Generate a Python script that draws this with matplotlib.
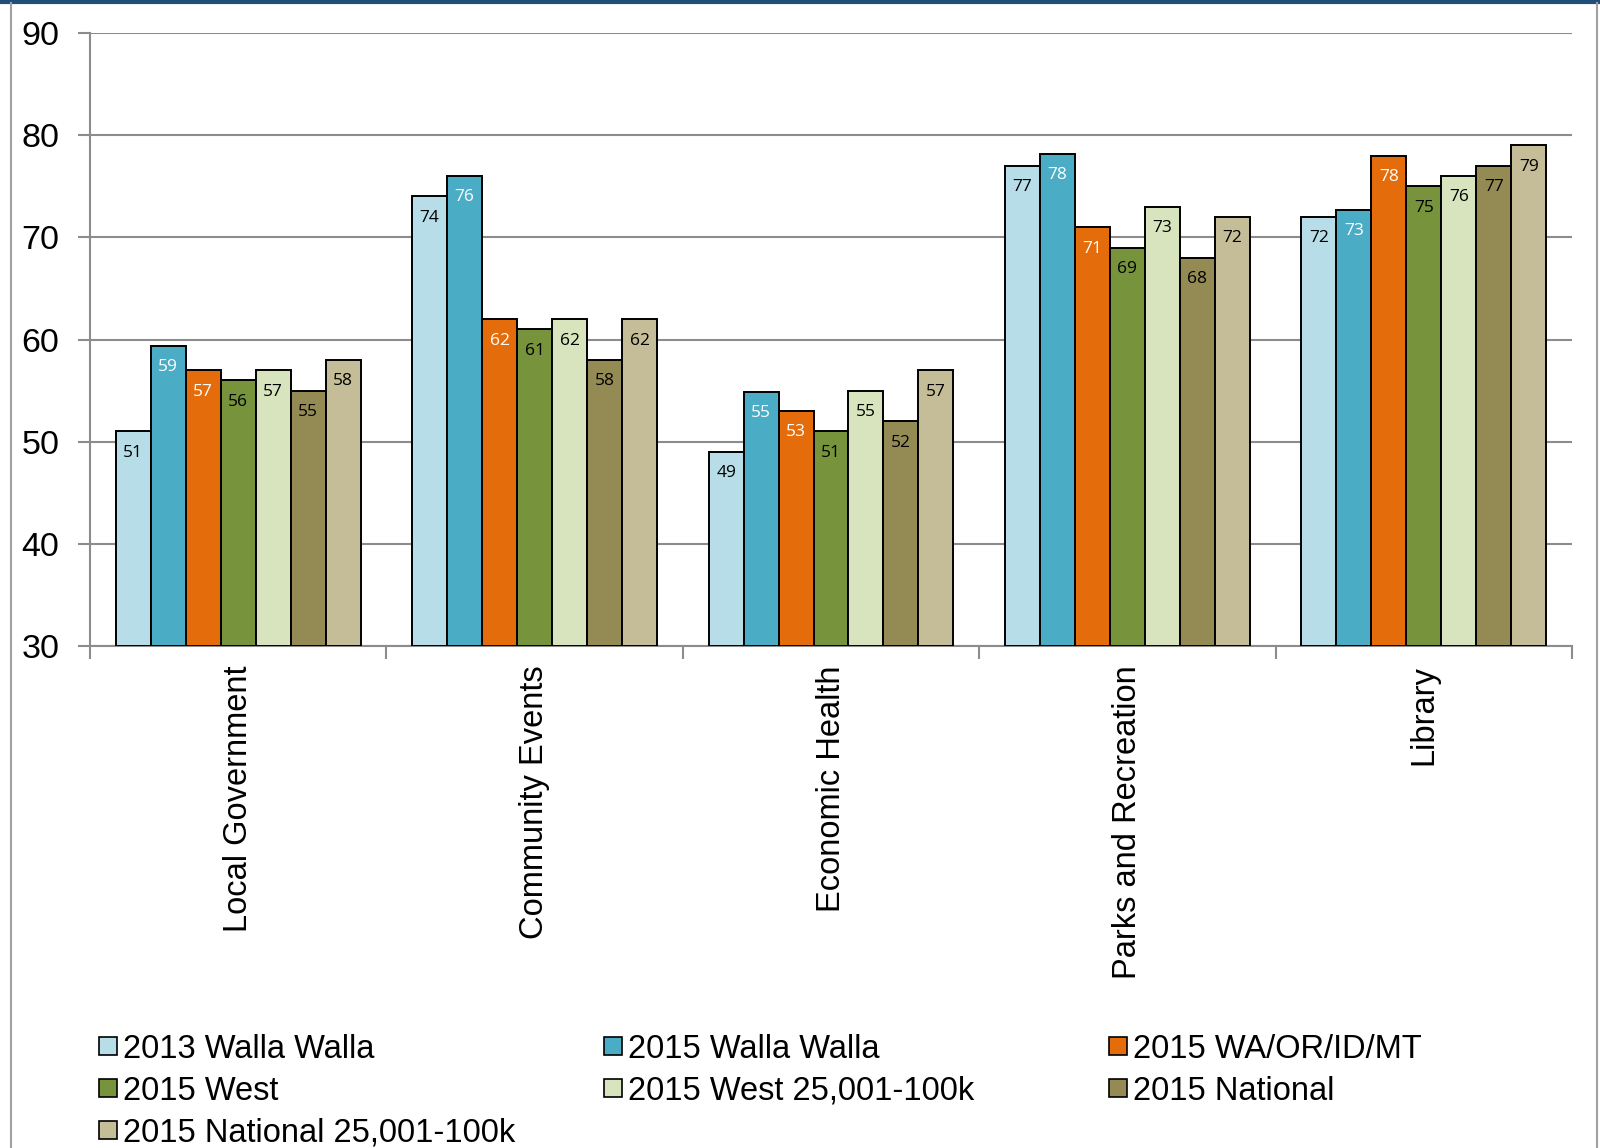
import matplotlib
matplotlib.use("Agg")
import matplotlib.pyplot as plt
import numpy as np
from matplotlib.patches import Rectangle
from matplotlib.lines import Line2D

categories = ["Local Government", "Community Events", "Economic Health",
              "Parks and Recreation", "Library"]
series_names = ["2013 Walla Walla", "2015 Walla Walla", "2015 WA/OR/ID/MT",
                "2015 West", "2015 West 25,001-100k", "2015 National",
                "2015 National 25,001-100k"]
ww_2013 = [51, 74, 49, 77, 72]
ww_2015 = [59.4, 76, 54.9, 78.2, 72.7]
waorid_2015 = [57, 62, 53, 71, 78]
west_2015 = [56, 61, 51, 69, 75]
west_small_2015 = [57, 62, 55, 73, 76]
national_2015 = [55, 58, 52, 68, 77]
national_small_2015 = [58, 62, 57, 72, 79]
series = [ww_2013, ww_2015, waorid_2015, west_2015, west_small_2015,
          national_2015, national_small_2015]

colors = ["#B7DEE8", "#4BACC6", "#E46C0A", "#77933C", "#D7E4BD", "#948A54", "#C4BD97"]
label_colors = ["black", "white", "white", "black", "black", "black", "black"]

W, H = 1600, 1148
fig = plt.figure(figsize=(W / 100, H / 100), dpi=100)
ax = fig.add_axes([90 / W, 1 - 646 / H, (1572 - 90) / W, (646 - 33) / H])

x = np.arange(len(categories))
bw = 0.118
n = len(series)
for i, (vals, col, lc) in enumerate(zip(series, colors, label_colors)):
    pos = x + (i - (n - 1) / 2) * bw
    ax.bar(pos, np.array(vals) - 30, bottom=30, width=bw, color=col,
           edgecolor="black", linewidth=1.4, zorder=3)
    for p, v in zip(pos, vals):
        ax.text(p, v - 2.1, f"{v:.0f}", ha="center", va="center", color=lc,
                fontsize=12.5, family="Open Sans", zorder=4)

ax.set_xlim(-0.5, len(categories) - 0.5)
ax.set_ylim(30, 90)
ax.set_yticks(range(30, 91, 10))
ax.yaxis.grid(True, color="#8c8c8c", linewidth=1.5, zorder=0)
ax.set_axisbelow(True)
for s in ["top", "right"]:
    ax.spines[s].set_visible(False)
for s in ["left", "bottom"]:
    ax.spines[s].set_color("#8c8c8c")
    ax.spines[s].set_linewidth(1.5)
ax.tick_params(axis="y", length=9, width=1.5, color="#8c8c8c", pad=13,
               labelsize=24.5)
for t in ax.get_yticklabels():
    t.set_family("Liberation Sans")

# category boundary ticks on the x axis, names written vertically below
ax.set_xticks(np.arange(-0.5, len(categories)))
ax.set_xticklabels([])
ax.tick_params(axis="x", length=9, width=1.5, color="#8c8c8c")
for xi, name in zip(x, categories):
    ax.annotate(name, xy=(xi, 30), xycoords="data", xytext=(0, -14),
                textcoords="offset points", rotation=90, ha="center", va="top",
                fontsize=23.5, family="Liberation Sans")

# legend: three columns, filled row by row
col_x = [99, 604, 1109]
row_y = [1046, 1088, 1130]
box = 18
for k, (name, c) in enumerate(zip(series_names, colors)):
    r, cidx = divmod(k, 3)
    cx, cy = col_x[cidx], row_y[r]
    fig.add_artist(Rectangle((cx / W, 1 - (cy + box / 2) / H), box / W, box / H,
                             facecolor=c, edgecolor="black", linewidth=1.2,
                             transform=fig.transFigure))
    fig.text((cx + box + 6) / W, 1 - cy / H, name, ha="left", va="center_baseline",
             fontsize=23.5, family="Liberation Sans")

# frame lines around the chart area
fig.add_artist(Line2D([0, 1], [1 - 1.5 / H, 1 - 1.5 / H], color="#1F4E79",
                      linewidth=3, transform=fig.transFigure))
fig.add_artist(Line2D([10.5 / W, 10.5 / W], [0, 1 - 3 / H], color="#a0a0a0",
                      linewidth=1.5, transform=fig.transFigure))
fig.add_artist(Line2D([1597 / W, 1597 / W], [0, 1 - 3 / H], color="#a0a0a0",
                      linewidth=1.5, transform=fig.transFigure))

fig.savefig("out.png", dpi=100)
